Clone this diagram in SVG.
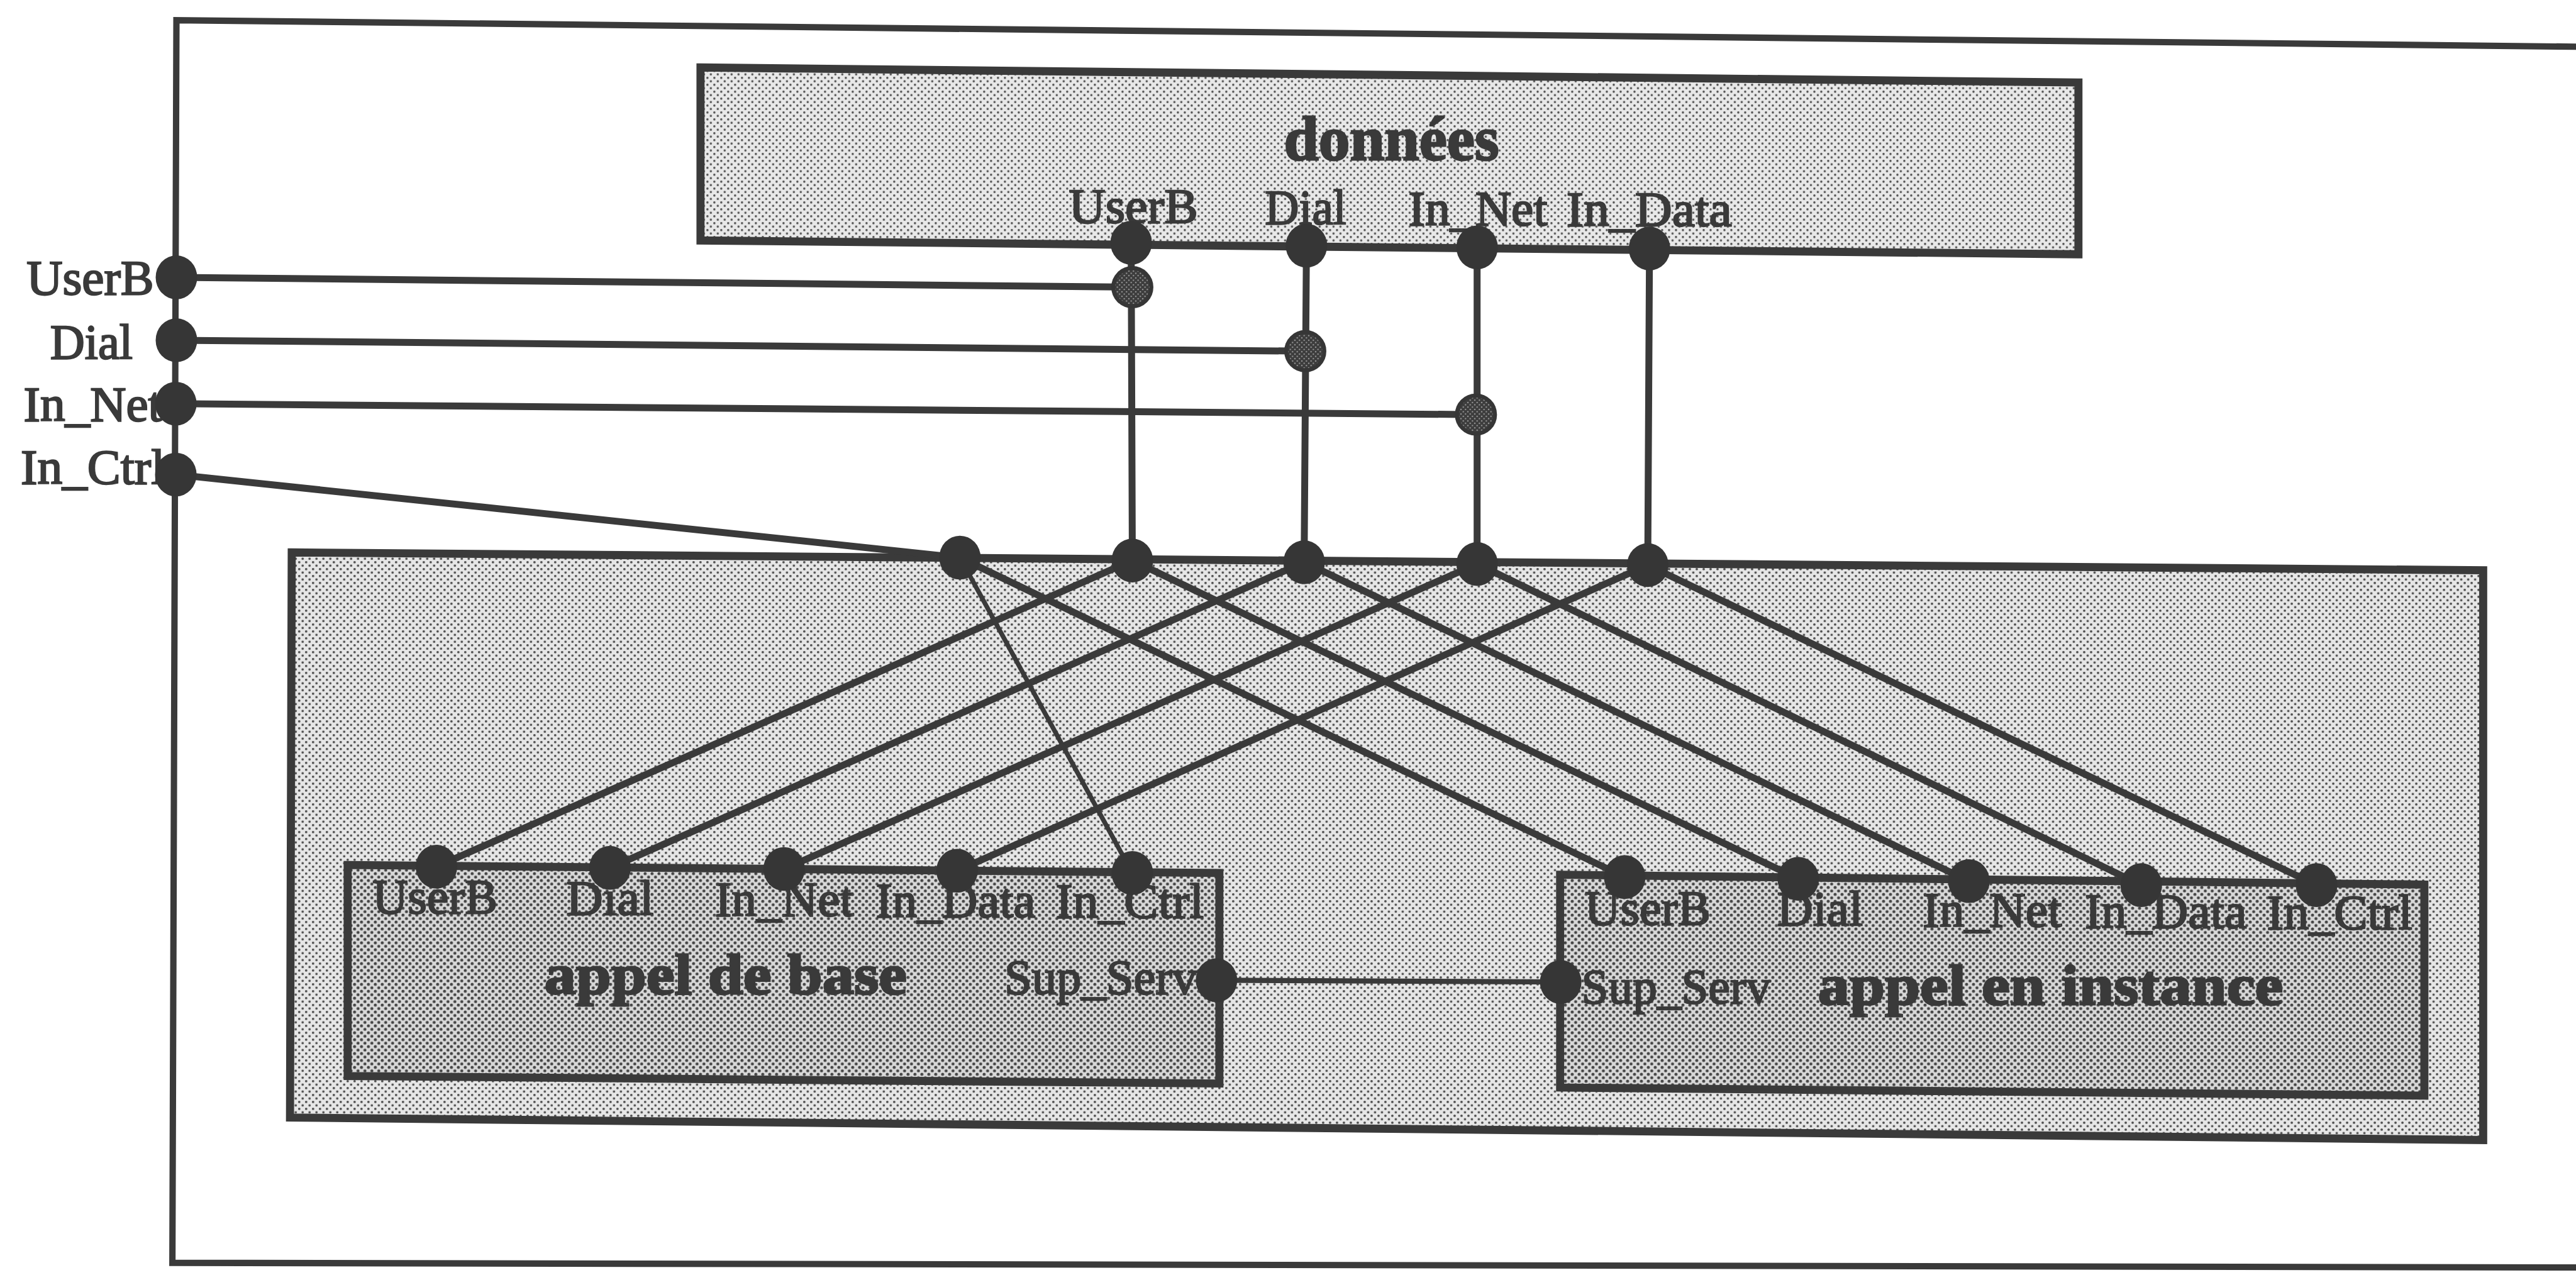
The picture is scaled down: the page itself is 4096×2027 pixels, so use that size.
<svg xmlns="http://www.w3.org/2000/svg" width="4096" height="2027" viewBox="0 0 4096 2027">
<defs>
  <!-- halftone fills: light for the data store, medium for the context, dense for the two call modules -->
  <pattern id="tramePale" width="12" height="12" patternUnits="userSpaceOnUse">
    <rect width="12" height="12" fill="#e8e8e8"/>
    <circle cx="3" cy="3" r="1.9" fill="#505050"/>
    <circle cx="9" cy="9" r="1.9" fill="#505050"/>
  </pattern>
  <pattern id="trameMoyenne" width="12" height="12" patternUnits="userSpaceOnUse">
    <rect width="12" height="12" fill="#e6e6e6"/>
    <circle cx="3" cy="3" r="2.1" fill="#4c4c4c"/>
    <circle cx="9" cy="9" r="2.1" fill="#4c4c4c"/>
  </pattern>
  <pattern id="trameDense" width="12" height="12" patternUnits="userSpaceOnUse">
    <rect width="12" height="12" fill="#d8d8d8"/>
    <circle cx="3" cy="3" r="2.6" fill="#444444"/>
    <circle cx="9" cy="9" r="2.6" fill="#444444"/>
  </pattern>
  <pattern id="trameSombre" width="8" height="8" patternUnits="userSpaceOnUse">
    <rect width="8" height="8" fill="#3c3c3c"/>
    <circle cx="2" cy="2" r="1.3" fill="#9a9a9a"/>
    <circle cx="6" cy="6" r="1.3" fill="#9a9a9a"/>
  </pattern>
</defs>
<style>
  .frame{fill:none;stroke:#3a3a3a;stroke-width:11;stroke-linecap:square}
  .box{stroke:#3a3a3a;stroke-width:14;stroke-linejoin:miter}
  .wire{fill:none;stroke:#3a3a3a;stroke-width:12;stroke-linecap:round}
  .wire.thin{stroke-width:8}
  .wire.link{stroke-width:9}
  .port{fill:#363636}
  .tap{fill:url(#trameSombre);stroke:#363636;stroke-width:7}
  .lbl{font-family:"Liberation Serif","Times New Roman",serif;font-size:86px;fill:#3a3a3a;stroke:#3a3a3a;stroke-width:2.5}
  .title{font-family:"Liberation Serif","Times New Roman",serif;font-weight:bold;fill:#3a3a3a;stroke:#3a3a3a;stroke-width:3}
</style>
<rect width="4096" height="2027" fill="#ffffff"/>
<g transform="scale(0.91674)">

  <!-- enclosing frame, open on the right -->
  <g id="cadre">
    <path class="frame" d="M4468,81 L306,35 L299,2190 L4468,2198"/>
  </g>

  <!-- context box holding the two call modules -->
  <g id="contexte">
    <polygon class="box" fill="url(#trameMoyenne)" points="506,958 4307,989 4307,1977 503,1938"/>
  </g>

  <!-- data store -->
  <g id="donnees">
    <polygon class="box" fill="url(#tramePale)" points="1215,117 3605,143 3605,441 1215,417"/>
    <text class="title" x="2227" y="277" font-size="108" textLength="373" lengthAdjust="spacingAndGlyphs">données</text>
    <text class="lbl" x="1854" y="386" textLength="224" lengthAdjust="spacingAndGlyphs">UserB</text>
    <text class="lbl" x="2194" y="388" textLength="141" lengthAdjust="spacingAndGlyphs">Dial</text>
    <text class="lbl" x="2443" y="390" textLength="241" lengthAdjust="spacingAndGlyphs">In_Net</text>
    <text class="lbl" x="2717" y="392" textLength="287" lengthAdjust="spacingAndGlyphs">In_Data</text>
  </g>

  <!-- basic call module -->
  <g id="appel-de-base">
    <polygon class="box" fill="url(#trameDense)" points="603,1500 2115,1514 2115,1879 603,1866"/>
    <text class="lbl" x="646" y="1584" textLength="217" lengthAdjust="spacingAndGlyphs">UserB</text>
    <text class="lbl" x="982" y="1586" textLength="152" lengthAdjust="spacingAndGlyphs">Dial</text>
    <text class="lbl" x="1240" y="1588" textLength="241" lengthAdjust="spacingAndGlyphs">In_Net</text>
    <text class="lbl" x="1519" y="1590" textLength="277" lengthAdjust="spacingAndGlyphs">In_Data</text>
    <text class="lbl" x="1831" y="1592" textLength="257" lengthAdjust="spacingAndGlyphs">In_Ctrl</text>
    <text class="title" x="944" y="1724" font-size="100" textLength="629" lengthAdjust="spacingAndGlyphs">appel de base</text>
    <text class="lbl" x="1742" y="1724" textLength="334" lengthAdjust="spacingAndGlyphs">Sup_Serv</text>
  </g>

  <!-- call-waiting module -->
  <g id="appel-en-instance">
    <polygon class="box" fill="url(#trameDense)" points="2706,1517 4205,1534 4205,1900 2706,1886"/>
    <text class="lbl" x="2749" y="1603" textLength="218" lengthAdjust="spacingAndGlyphs">UserB</text>
    <text class="lbl" x="3082" y="1605" textLength="149" lengthAdjust="spacingAndGlyphs">Dial</text>
    <text class="lbl" x="3335" y="1607" textLength="241" lengthAdjust="spacingAndGlyphs">In_Net</text>
    <text class="lbl" x="3616" y="1609" textLength="281" lengthAdjust="spacingAndGlyphs">In_Data</text>
    <text class="lbl" x="3932" y="1611" textLength="252" lengthAdjust="spacingAndGlyphs">In_Ctrl</text>
    <text class="lbl" x="2743" y="1740" textLength="328" lengthAdjust="spacingAndGlyphs">Sup_Serv</text>
    <text class="title" x="3153" y="1742" font-size="100" textLength="807" lengthAdjust="spacingAndGlyphs">appel en instance</text>
  </g>

  <!-- external ports on the frame -->
  <g id="ports-externes">
    <text class="lbl" x="46" y="510" textLength="221" lengthAdjust="spacingAndGlyphs">UserB</text>
    <text class="lbl" x="87" y="622" textLength="143" lengthAdjust="spacingAndGlyphs">Dial</text>
    <text class="lbl" x="41" y="730" textLength="240" lengthAdjust="spacingAndGlyphs">In_Net</text>
    <text class="lbl" x="36" y="839" textLength="250" lengthAdjust="spacingAndGlyphs">In_Ctrl</text>
  </g>

  <!-- wiring between ports -->
  <g id="connexions">
    <!-- frame inputs -->
    <line class="wire" x1="306" y1="481" x2="1964" y2="498"/>
    <line class="wire" x1="306" y1="590" x2="2264" y2="609"/>
    <line class="wire" x1="305" y1="700" x2="2560" y2="719"/>
    <line class="wire" x1="305" y1="823" x2="1665" y2="967"/>
    <!-- data store outputs down to the context -->
    <line class="wire" x1="1962" y1="421" x2="1964" y2="972"/>
    <line class="wire" x1="2266" y1="426" x2="2262" y2="975"/>
    <line class="wire" x1="2562" y1="429" x2="2562" y2="978"/>
    <line class="wire" x1="2861" y1="431" x2="2858" y2="980"/>
    <!-- towards appel de base -->
    <line class="wire" x1="1964" y1="972" x2="757" y2="1503"/>
    <line class="wire" x1="2262" y1="975" x2="1058" y2="1505"/>
    <line class="wire" x1="2562" y1="978" x2="1360" y2="1507"/>
    <line class="wire" x1="2858" y1="980" x2="1660" y2="1510"/>
    <line class="wire thin" x1="1665" y1="967" x2="1964" y2="1514"/>
    <!-- towards appel en instance -->
    <line class="wire" x1="1665" y1="967" x2="2818" y2="1521"/>
    <line class="wire" x1="1964" y1="972" x2="3119" y2="1524"/>
    <line class="wire" x1="2262" y1="975" x2="3415" y2="1528"/>
    <line class="wire" x1="2562" y1="978" x2="3714" y2="1535"/>
    <line class="wire" x1="2858" y1="980" x2="4018" y2="1535"/>
    <!-- supplementary service link -->
    <line class="wire link" x1="2110" y1="1700" x2="2707" y2="1703"/>
    <!-- taps where the inputs join the data lines -->
    <circle class="tap" cx="1964" cy="498" r="33"/>
    <circle class="tap" cx="2264" cy="609" r="33"/>
    <circle class="tap" cx="2560" cy="719" r="33"/>
  </g>

  <!-- port dots -->
  <g id="points">
    <ellipse class="port" cx="306" cy="481" rx="36" ry="38"/>
    <ellipse class="port" cx="306" cy="590" rx="36" ry="38"/>
    <ellipse class="port" cx="305" cy="700" rx="36" ry="38"/>
    <ellipse class="port" cx="305" cy="823" rx="36" ry="38"/>

    <ellipse class="port" cx="1962" cy="421" rx="36" ry="38"/>
    <ellipse class="port" cx="2266" cy="426" rx="36" ry="38"/>
    <ellipse class="port" cx="2562" cy="429" rx="36" ry="38"/>
    <ellipse class="port" cx="2861" cy="431" rx="36" ry="38"/>

    <ellipse class="port" cx="1665" cy="967" rx="36" ry="38"/>
    <ellipse class="port" cx="1964" cy="972" rx="36" ry="38"/>
    <ellipse class="port" cx="2262" cy="975" rx="36" ry="38"/>
    <ellipse class="port" cx="2562" cy="978" rx="36" ry="38"/>
    <ellipse class="port" cx="2858" cy="980" rx="36" ry="38"/>

    <ellipse class="port" cx="757" cy="1503" rx="36" ry="38"/>
    <ellipse class="port" cx="1058" cy="1505" rx="36" ry="38"/>
    <ellipse class="port" cx="1360" cy="1507" rx="36" ry="38"/>
    <ellipse class="port" cx="1660" cy="1510" rx="36" ry="38"/>
    <ellipse class="port" cx="1964" cy="1514" rx="36" ry="38"/>
    <ellipse class="port" cx="2110" cy="1700" rx="36" ry="38"/>

    <ellipse class="port" cx="2818" cy="1521" rx="36" ry="38"/>
    <ellipse class="port" cx="3119" cy="1524" rx="36" ry="38"/>
    <ellipse class="port" cx="3415" cy="1528" rx="36" ry="38"/>
    <ellipse class="port" cx="3714" cy="1535" rx="36" ry="38"/>
    <ellipse class="port" cx="4018" cy="1535" rx="36" ry="38"/>
    <ellipse class="port" cx="2707" cy="1703" rx="36" ry="38"/>
  </g>
</g>
</svg>
